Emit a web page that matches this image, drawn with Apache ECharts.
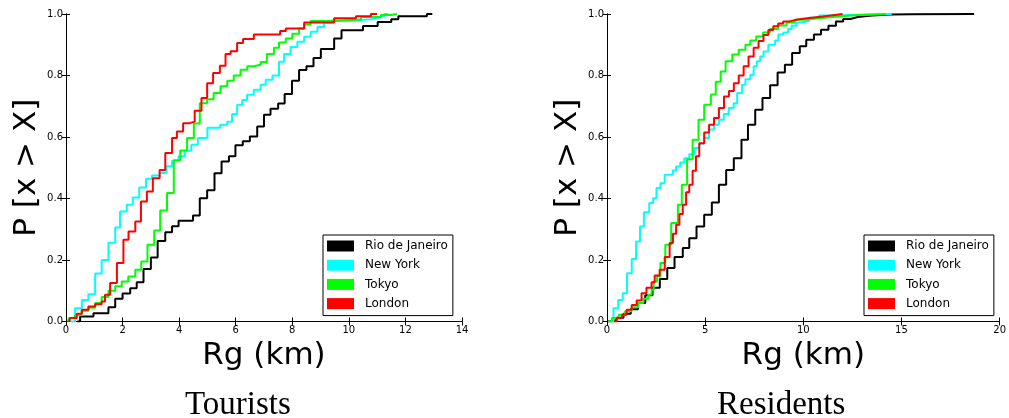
<!DOCTYPE html>
<html>
<head>
<meta charset="utf-8">
<title>Radius of gyration CDF</title>
<script src="https://cdn.jsdelivr.net/npm/echarts@6/dist/echarts.min.js"></script>
<style>
  html, body { margin: 0; padding: 0; background: #fff; }
  #chart { width: 1009px; height: 418px; }
</style>
</head>
<body>
<div id="chart"></div>
<script>
// Cumulative distributions of the radius of gyration (km).
// Each series: step edges (km) and the cumulative level reached at each edge.
const cityNames = ['Rio de Janeiro', 'New York', 'Tokyo', 'London'];
const cityColors = ['#000000', '#00ffff', '#00ff00', '#ff0000'];

const panelTitles = ['Tourists', 'Residents'];
const xTickMax = [14, 20];
const xTickStep = [2, 5];
const yTickStep = 0.2;

// Tourists
const touristsRioX = [0.4, 0.5, 0.97, 1.5, 1.74, 2.0, 2.27, 2.5, 2.74, 3.0, 3.24, 3.51, 3.75, 3.98, 4.49, 4.73, 4.99, 5.25, 5.5, 5.76, 5.99, 6.25, 6.5, 6.76, 7.0, 7.23, 7.5, 7.73, 7.99, 8.24, 8.5, 8.75, 9.01, 9.48, 9.74, 10.5, 11.02, 11.5, 11.75, 12.76, 12.95];
const touristsRioP = [0, 0.016, 0.027, 0.046, 0.074, 0.091, 0.108, 0.128, 0.171, 0.208, 0.262, 0.29, 0.31, 0.328, 0.345, 0.401, 0.427, 0.482, 0.52, 0.537, 0.573, 0.586, 0.602, 0.634, 0.672, 0.692, 0.709, 0.74, 0.783, 0.818, 0.83, 0.857, 0.886, 0.92, 0.947, 0.961, 0.974, 0.983, 0.993, 1.0, 1.0];

const touristsNyX = [0.14, 0.32, 0.56, 0.79, 1.03, 1.26, 1.5, 1.74, 1.91, 2.15, 2.36, 2.59, 2.83, 3.04, 3.31, 3.55, 3.75, 3.98, 4.2, 4.43, 4.66, 5.0, 5.45, 5.7, 5.87, 6.05, 6.23, 6.4, 6.64, 6.88, 7.06, 7.3, 7.53, 7.71, 7.94, 8.18, 8.42, 8.65, 8.89, 9.12, 9.36, 10.19, 10.78, 11.02, 11.25, 11.4];
const touristsNyP = [0, 0.043, 0.07, 0.089, 0.156, 0.2, 0.256, 0.306, 0.358, 0.38, 0.403, 0.436, 0.464, 0.475, 0.483, 0.505, 0.523, 0.537, 0.555, 0.575, 0.597, 0.63, 0.64, 0.65, 0.675, 0.705, 0.72, 0.737, 0.754, 0.77, 0.786, 0.8, 0.845, 0.87, 0.893, 0.91, 0.926, 0.942, 0.958, 0.972, 0.979, 0.983, 0.988, 0.993, 1.0, 1.0];

const touristsTokyoX = [0.05, 0.12, 0.32, 0.55, 0.8, 1.03, 1.26, 1.5, 1.74, 1.97, 2.2, 2.45, 2.66, 2.88, 3.12, 3.33, 3.57, 3.81, 4.04, 4.28, 4.52, 4.73, 4.99, 5.22, 5.46, 5.7, 5.93, 6.17, 6.41, 6.64, 6.88, 7.1, 7.35, 7.53, 7.77, 8.0, 8.24, 8.42, 8.65, 9.48, 10.43, 11.13, 11.49, 11.7];
const touristsTokyoP = [0, 0.011, 0.02, 0.035, 0.045, 0.06, 0.08, 0.1, 0.115, 0.13, 0.146, 0.168, 0.195, 0.25, 0.296, 0.361, 0.418, 0.524, 0.556, 0.597, 0.644, 0.71, 0.723, 0.743, 0.765, 0.783, 0.8, 0.819, 0.83, 0.835, 0.844, 0.87, 0.89, 0.907, 0.92, 0.936, 0.953, 0.966, 0.977, 0.982, 0.99, 0.997, 1.0, 1.0];

const touristsLondonX = [0.12, 0.14, 0.38, 0.56, 0.79, 1.03, 1.26, 1.38, 1.56, 1.8, 2.03, 2.21, 2.45, 2.65, 2.86, 3.07, 3.31, 3.51, 3.75, 3.92, 4.14, 4.37, 4.55, 4.79, 4.99, 5.2, 5.44, 5.64, 5.82, 6.05, 6.26, 6.64, 7.57, 7.77, 8.42, 9.48, 10.25, 10.78, 11.0];
const touristsLondonP = [0, 0.011, 0.025, 0.038, 0.049, 0.056, 0.065, 0.087, 0.125, 0.19, 0.266, 0.293, 0.325, 0.39, 0.423, 0.466, 0.493, 0.548, 0.597, 0.618, 0.645, 0.65, 0.685, 0.727, 0.775, 0.808, 0.832, 0.87, 0.879, 0.906, 0.919, 0.933, 0.945, 0.953, 0.972, 0.986, 0.993, 1.0, 1.0];

// Residents
const residentsRioX = [0.05, 0.1, 0.47, 0.84, 1.21, 1.58, 1.95, 2.32, 2.69, 3.07, 3.44, 3.86, 4.19, 4.56, 4.95, 5.34, 5.7, 6.07, 6.46, 6.85, 7.18, 7.55, 7.92, 8.31, 8.69, 9.06, 9.43, 9.82, 10.15, 10.54, 10.9, 11.28, 11.66, 12.03, 12.4, 12.77, 13.5, 14.5, 15.5, 18.7];
const residentsRioP = [0, 0.004, 0.012, 0.025, 0.04, 0.06, 0.085, 0.11, 0.138, 0.174, 0.21, 0.239, 0.271, 0.309, 0.347, 0.387, 0.445, 0.493, 0.531, 0.591, 0.64, 0.689, 0.727, 0.768, 0.81, 0.835, 0.873, 0.895, 0.916, 0.933, 0.949, 0.962, 0.976, 0.984, 0.99, 0.995, 0.998, 0.999, 1.0, 1.0];

const residentsNyX = [0.1, 0.33, 0.57, 0.8, 1.02, 1.26, 1.48, 1.68, 1.88, 2.15, 2.35, 2.52, 2.72, 2.94, 3.35, 3.52, 3.73, 3.94, 4.19, 4.45, 4.7, 4.95, 5.2, 5.45, 5.7, 5.95, 6.2, 6.45, 6.63, 6.88, 7.05, 7.3, 7.47, 7.63, 7.8, 7.97, 8.22, 8.56, 8.73, 8.98, 9.23, 9.4, 9.65, 9.9, 10.3, 10.8, 11.3, 14.5];
const residentsNyP = [0, 0.043, 0.07, 0.092, 0.157, 0.203, 0.26, 0.309, 0.355, 0.385, 0.401, 0.434, 0.45, 0.477, 0.491, 0.504, 0.517, 0.531, 0.544, 0.564, 0.578, 0.597, 0.624, 0.64, 0.656, 0.675, 0.694, 0.71, 0.743, 0.77, 0.788, 0.802, 0.83, 0.846, 0.862, 0.878, 0.9, 0.914, 0.933, 0.94, 0.951, 0.962, 0.972, 0.978, 0.988, 0.995, 1.0, 1.0];

const residentsTokyoX = [0.05, 0.25, 0.59, 0.92, 1.26, 1.59, 1.85, 2.1, 2.27, 2.38, 2.55, 2.72, 2.97, 3.27, 3.61, 3.81, 4.08, 4.36, 4.66, 4.95, 5.29, 5.54, 5.79, 6.04, 6.38, 6.71, 7.05, 7.3, 7.6, 7.95, 8.3, 8.72, 9.15, 9.57, 10.07, 10.8, 11.8, 12.8, 14.2];
const residentsTokyoP = [0, 0.011, 0.022, 0.033, 0.046, 0.06, 0.074, 0.087, 0.103, 0.13, 0.146, 0.19, 0.25, 0.32, 0.38, 0.445, 0.528, 0.591, 0.656, 0.705, 0.738, 0.78, 0.813, 0.846, 0.868, 0.884, 0.9, 0.914, 0.927, 0.94, 0.951, 0.963, 0.972, 0.981, 0.986, 0.992, 0.997, 1.0, 1.0];

const residentsLondonX = [0.35, 0.5, 0.76, 1.0, 1.26, 1.51, 1.76, 2.01, 2.27, 2.43, 2.68, 2.94, 3.19, 3.36, 3.52, 3.69, 3.86, 4.03, 4.19, 4.36, 4.53, 4.7, 4.95, 5.2, 5.45, 5.7, 5.96, 6.21, 6.46, 6.71, 6.96, 7.21, 7.47, 7.72, 7.97, 8.22, 8.47, 8.72, 8.97, 9.3, 9.7, 10.3, 11.0, 11.6, 12.0];
const residentsLondonP = [0, 0.011, 0.022, 0.038, 0.054, 0.068, 0.092, 0.11, 0.128, 0.15, 0.168, 0.21, 0.255, 0.285, 0.315, 0.35, 0.38, 0.42, 0.445, 0.49, 0.537, 0.58, 0.615, 0.64, 0.662, 0.694, 0.732, 0.75, 0.775, 0.8, 0.83, 0.862, 0.89, 0.912, 0.932, 0.948, 0.96, 0.969, 0.976, 0.982, 0.987, 0.992, 0.997, 1.0, 1.0];

const panelSeries = [
  [[touristsRioX, touristsRioP], [touristsNyX, touristsNyP], [touristsTokyoX, touristsTokyoP], [touristsLondonX, touristsLondonP]],
  [[residentsRioX, residentsRioP], [residentsNyX, residentsNyP], [residentsTokyoX, residentsTokyoP], [residentsLondonX, residentsLondonP]]
];

const chart = echarts.init(document.getElementById('chart'), null, { renderer: 'canvas' });

const font = 'DejaVu Sans';
const black = '#000';

const grids = [
  { left: 66, top: 14, width: 396, height: 307.5 },
  { left: 607, top: 14, width: 397, height: 307.5 }
];

const xAxes = [];
const yAxes = [];
const series = [];
const legends = [];
const titles = [];
const legendLeft = [323, 864];
const titleLeft = [185, 717];

grids.forEach((g, p) => {
  const tickStyle = { show: true, inside: true, length: 4, lineStyle: { color: black, width: 1 } };
  const lineStyle = { show: true, lineStyle: { color: black, width: 1 } };
  // bottom axis with labels and name
  xAxes.push({
    type: 'value', gridIndex: p, position: 'bottom', min: 0, max: xTickMax[p], interval: xTickStep[p],
    axisLine: lineStyle, axisTick: tickStyle, splitLine: { show: false },
    axisLabel: { color: black, fontFamily: font, fontSize: 10, margin: 4 },
    name: 'Rg (km)', nameLocation: 'middle', nameGap: 18,
    nameTextStyle: { color: black, fontFamily: font, fontSize: 31 }
  });
  // top frame edge with ticks
  xAxes.push({
    type: 'value', gridIndex: p, position: 'top', min: 0, max: xTickMax[p], interval: xTickStep[p],
    axisLine: lineStyle, axisTick: tickStyle, splitLine: { show: false }, axisLabel: { show: false }
  });
  yAxes.push({
    type: 'value', gridIndex: p, position: 'left', min: 0, max: 1, interval: yTickStep,
    axisLine: lineStyle, axisTick: tickStyle, splitLine: { show: false },
    axisLabel: { color: black, fontFamily: font, fontSize: 10, margin: 3, formatter: v => v.toFixed(1) },
    name: 'P [x > X]', nameLocation: 'middle', nameGap: 24, nameRotate: 90,
    nameTextStyle: { color: black, fontFamily: font, fontSize: 31 }
  });
  yAxes.push({
    type: 'value', gridIndex: p, position: 'right', min: 0, max: 1, interval: yTickStep,
    axisLine: lineStyle, axisTick: tickStyle, splitLine: { show: false }, axisLabel: { show: false }
  });

  panelSeries[p].forEach(([xs, ps], i) => {
    series.push({
      type: 'line', name: cityNames[i], xAxisIndex: p * 2, yAxisIndex: p * 2,
      data: xs.map((x, k) => [x, ps[k]]),
      step: 'end', showSymbol: false, symbol: 'none', clip: true,
      lineStyle: { color: cityColors[i], width: 2 },
      itemStyle: { color: cityColors[i] },
      z: 2 + i
    });
  });

  legends.push({
    orient: 'vertical', left: legendLeft[p], top: 235,
    itemWidth: 27, itemHeight: 11, itemGap: 5.2,
    padding: [4, 5, 5, 4],
    borderColor: black, borderWidth: 1, backgroundColor: '#fff',
    selectedMode: false,
    textStyle: { color: black, fontFamily: font, fontSize: 12, lineHeight: 14, padding: [0, 0, 0, 6] },
    data: cityNames.map(n => ({ name: n, icon: 'rect' }))
  });

  titles.push({
    text: panelTitles[p], left: titleLeft[p], top: 389, padding: 0,
    textStyle: { color: black, fontFamily: 'Liberation Serif', fontSize: 33, fontWeight: 'normal' }
  });
});

chart.setOption({
  animation: false,
  backgroundColor: '#fff',
  title: titles,
  grid: grids,
  xAxis: xAxes,
  yAxis: yAxes,
  legend: legends,
  series: series
});
</script>
</body>
</html>
